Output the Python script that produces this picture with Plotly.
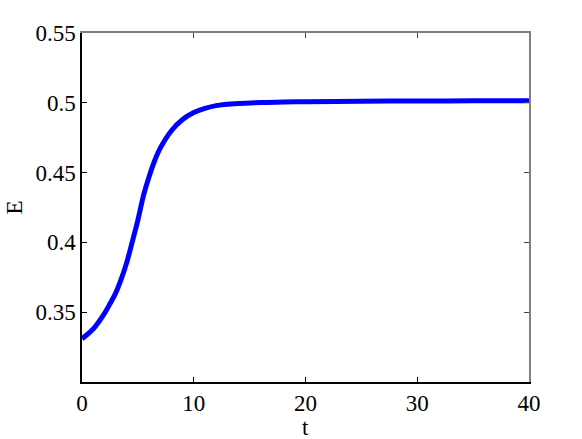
import plotly.graph_objects as go

# valeurs
t = [0, 1, 2, 2.5, 3, 3.5, 4, 4.5, 5, 5.5, 6, 6.5, 7, 8, 9, 10, 11, 12, 14,
     16, 18, 20, 25, 30, 35, 40]
E = [0.331, 0.338, 0.349, 0.356, 0.3635, 0.3735, 0.3855, 0.4005, 0.416,
     0.4335, 0.447, 0.4585, 0.4675, 0.480, 0.488, 0.493, 0.496, 0.498,
     0.4995, 0.5002, 0.5005, 0.5008, 0.5011, 0.5013, 0.5014, 0.5014]

x_ticks = [0, 10, 20, 30, 40]
y_ticks = [0.35, 0.4, 0.45, 0.5, 0.55]
y_labels = ["0.35", "0.4", "0.45", "0.5", "0.55"]

font = dict(family="Liberation Serif, Times New Roman, serif", size=23,
            color="black")

fig = go.Figure()
fig.add_trace(go.Scatter(x=t, y=E, mode="lines",
                         line=dict(color="#0000ff", width=5, shape="spline",
                                   smoothing=0.8),
                         showlegend=False))

fig.update_layout(
    width=582, height=439,
    margin=dict(l=82, r=53, t=33, b=57),
    paper_bgcolor="white", plot_bgcolor="white",
    font=font,
    xaxis=dict(range=[0, 40], tickvals=x_ticks, ticks="inside", ticklen=5,
               tickcolor="black", linecolor="black", linewidth=1.5,
               tickfont=font, showgrid=False, zeroline=False),
    yaxis=dict(range=[0.3, 0.55], tickvals=y_ticks, ticktext=y_labels,
               ticks="inside", ticklen=5, tickcolor="black", tickfont=font,
               linecolor="black", linewidth=1.5, showgrid=False,
               zeroline=False),
    xaxis2=dict(range=[0, 40], overlaying="x", side="top", tickvals=x_ticks,
                ticks="inside", ticklen=5, tickcolor="#444",
                showticklabels=False, linecolor="#808080", linewidth=1.5,
                showgrid=False, zeroline=False),
    yaxis2=dict(range=[0.3, 0.55], overlaying="y", side="right",
                tickvals=y_ticks, ticks="inside", ticklen=5, tickcolor="#444",
                showticklabels=False, linecolor="#808080", linewidth=1.5,
                showgrid=False, zeroline=False),
    annotations=[
        dict(text="t", x=20, xref="x", y=0, yref="paper", yanchor="middle",
             yshift=-45, showarrow=False, font=font),
        dict(text="E", x=0, xref="paper", xanchor="center", xshift=-68,
             y=0.5, yref="paper", textangle=-90, showarrow=False, font=font),
    ],
)
# trace invisible pour activer les axes du haut et de droite
fig.add_trace(go.Scatter(x=[None], y=[None], xaxis="x2", yaxis="y2",
                         showlegend=False, hoverinfo="skip"))

# pas de marge autour de la figure dans la page
fig.write_html("out.html", config={"displayModeBar": False},
               post_script="document.body.style.margin='0';")
